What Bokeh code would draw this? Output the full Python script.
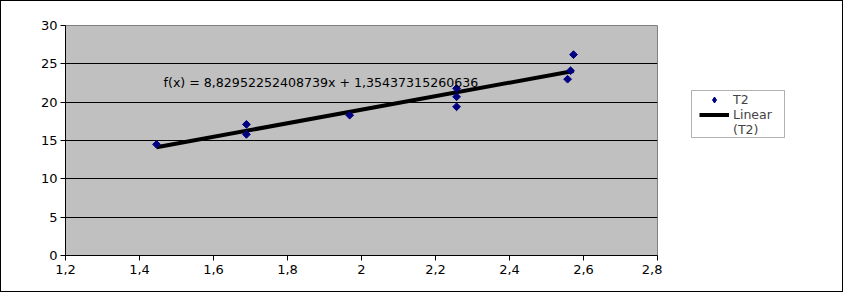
import numpy as np
from bokeh.plotting import figure
from bokeh.layouts import row
from bokeh.models import (FixedTicker, CustomJSTickFormatter, Legend, LegendItem,
                          Label, Range1d, ColumnDataSource, BoxAnnotation)
from bokeh.embed import file_html
from bokeh.resources import INLINE

# ---- data ----
x_vals = [1.446, 1.689, 1.689, 1.968, 2.257, 2.257, 2.257, 2.557, 2.565, 2.573]
y_vals = [14.5, 17.1, 15.8, 18.3, 21.8, 20.7, 19.4, 23.0, 24.1, 26.2]
slope = 8.82952252408739
intercept = 1.35437315260636
eq_text = "f(x) = 8,82952252408739x + 1,35437315260636"
x_ticks = [1.2, 1.4, 1.6, 1.8, 2.0, 2.2, 2.4, 2.6, 2.8]
y_ticks = [0, 5, 10, 15, 20, 25, 30]
series_name = "T2"
trend_name = "Linear\n(T2)"

FONT = "DejaVu Sans"
NAVY = "#000080"

p = figure(width=661, height=290, output_backend="svg", toolbar_location=None,
           x_range=Range1d(1.2, 2.8), y_range=Range1d(0, 30),
           min_border_left=64, min_border_right=5, min_border_top=24, min_border_bottom=36)
p.background_fill_color = "#c0c0c0"
p.border_fill_color = "white"
p.outline_line_color = "#808080"

p.xgrid.grid_line_color = None
p.ygrid.grid_line_color = "black"
p.ygrid.grid_line_width = 1

for ax in (p.xaxis[0], p.yaxis[0]):
    ax.axis_line_color = "black"
    ax.major_tick_line_color = "black"
    ax.major_tick_in = 0
    ax.major_tick_out = 5
    ax.minor_tick_line_color = None
    ax.major_label_text_font = FONT
    ax.major_label_text_font_size = "13px"
    ax.major_label_text_color = "black"

p.xaxis.ticker = FixedTicker(ticks=x_ticks)
p.yaxis.ticker = FixedTicker(ticks=y_ticks)
p.xaxis.formatter = CustomJSTickFormatter(code="return (Math.round(tick*10)/10).toString().replace('.', ',');")
p.yaxis.formatter = CustomJSTickFormatter(code="return tick.toString();")
p.xaxis.major_label_standoff = 4
p.yaxis.major_label_standoff = 3

src = ColumnDataSource(dict(x=x_vals, y=y_vals))
xs = np.array([min(x_vals), max(x_vals)])
line_src = ColumnDataSource(dict(x=xs, y=slope * xs + intercept))

p.line("x", "y", source=line_src, line_color="black", line_width=4)
p.scatter("x", "y", source=src, marker="square", angle=np.pi / 4, size=5.5,
          fill_color=NAVY, line_color=NAVY)

lbl = Label(x=1.465, y=22.56, text=eq_text, text_font=FONT, text_font_size="12.6px",
            text_baseline="middle", text_color="black")
p.add_layout(lbl)

# ---- legend panel (separate figure to the right) ----
p2 = figure(width=180, height=290, output_backend="svg", toolbar_location=None,
            x_range=Range1d(0, 1), y_range=Range1d(0, 1),
            x_axis_location=None, y_axis_location=None,
            min_border=0)
p2.grid.grid_line_color = None
p2.outline_line_color = None
p2.background_fill_color = "white"
p2.border_fill_color = "white"

legend_src = ColumnDataSource(dict(x=[np.nan], y=[np.nan]))
d_pts = p2.scatter("x", "y", source=legend_src, marker="diamond", size=10,
                   fill_color=NAVY, line_color=NAVY)
d_line = p2.line("x", "y", source=legend_src, line_color="black", line_width=4)
d_blank = p2.line("x", "y", source=legend_src, line_alpha=0)

# legend frame box (screen units, relative to the panel's frame)
frame_box = BoxAnnotation(left=29, right=122, bottom=118, top=165,
                          left_units="screen", right_units="screen",
                          bottom_units="screen", top_units="screen",
                          fill_color="white", fill_alpha=1,
                          line_color="black", line_width=1, level="underlay")
p2.add_layout(frame_box)

trend_lines = trend_name.split("\n")
legend = Legend(items=[LegendItem(label=series_name, renderers=[d_pts]),
                       LegendItem(label=trend_lines[0], renderers=[d_line]),
                       LegendItem(label=trend_lines[1], renderers=[d_blank])],
                location=(37, 118))
legend.label_text_font = FONT
legend.label_text_font_size = "12.5px"
legend.label_text_line_height = 1.2
legend.label_height = 15
legend.glyph_width = 30
legend.glyph_height = 15
legend.label_standoff = 4
legend.padding = 1
legend.spacing = 0
legend.margin = 0
legend.border_line_color = None
legend.background_fill_alpha = 0
p2.add_layout(legend, "center")

layout = row(p, p2, spacing=0)
layout.styles = {"border": "1px solid black"}

open("out.html", "w").write(file_html(layout, INLINE))
